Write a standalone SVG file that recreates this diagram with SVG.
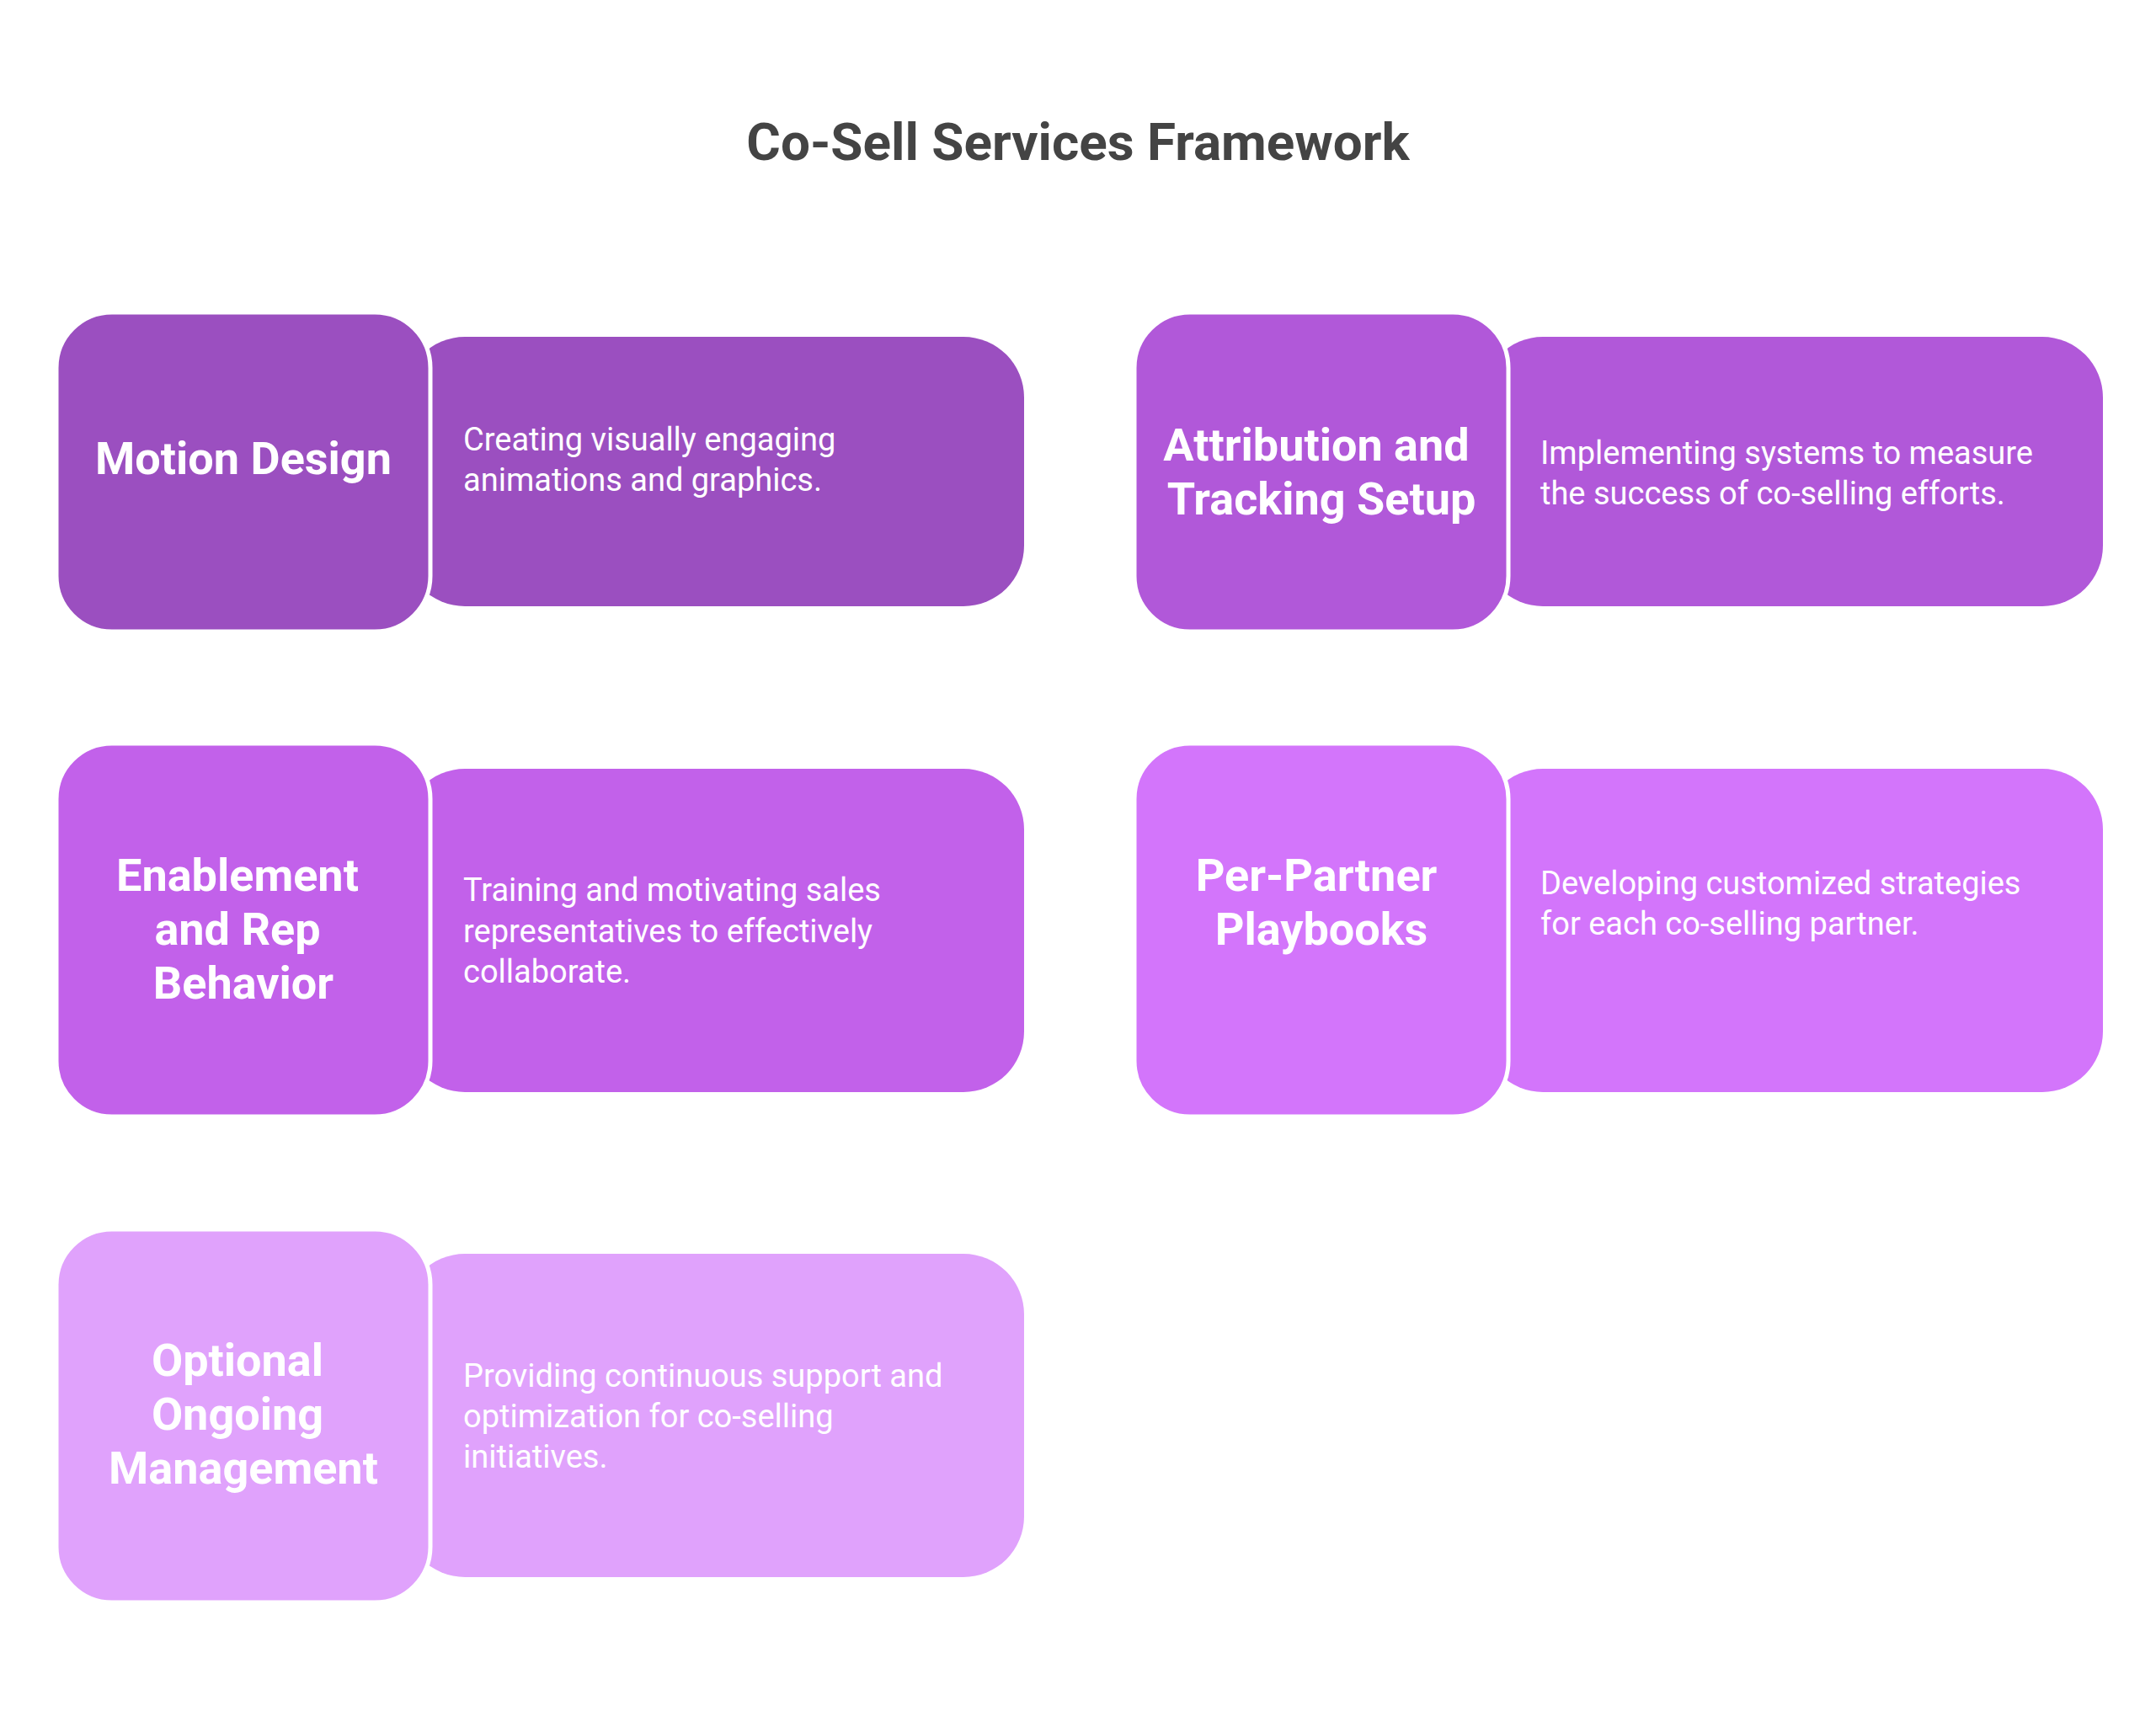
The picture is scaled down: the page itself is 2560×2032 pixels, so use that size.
<svg xmlns="http://www.w3.org/2000/svg" width="2560" height="2032" viewBox="0 0 2560 2032">
<style>
.t{font-family:Roboto,"Liberation Sans",sans-serif;font-weight:700;font-size:54px;fill:#fff;text-anchor:middle}
.d{font-family:Roboto,"Liberation Sans",sans-serif;font-size:38px;fill:#fff}
.h{stroke:#fff;stroke-width:5}
</style>
<rect width="2560" height="2032" fill="#fff"/>
<text x="1280" y="190" font-family="Roboto,'Liberation Sans',sans-serif" font-weight="700" font-size="62" fill="#444" text-anchor="middle">Co-Sell Services Framework</text>
<g id="n1">
<rect x="480" y="400" width="736" height="320" rx="72" fill="#9b4fc0"/>
<rect class="h" x="67" y="371" width="444" height="379" rx="66" fill="#9b4fc0"/>
<text class="t" x="289" y="563">Motion Design</text>
<text class="d" x="550" y="535">Creating visually engaging</text>
<text class="d" x="550" y="583">animations and graphics.</text>
</g>
<g id="n2">
<rect x="1760" y="400" width="737" height="320" rx="72" fill="#b158d9"/>
<rect class="h" x="1347" y="371" width="444" height="379" rx="66" fill="#b158d9"/>
<text class="t" x="1563" y="547">Attribution and</text>
<text class="t" x="1569" y="611">Tracking Setup</text>
<text class="d" x="1829" y="551">Implementing systems to measure</text>
<text class="d" x="1829" y="599">the success of co-selling efforts.</text>
</g>
<g id="n3">
<rect x="480" y="913" width="736" height="384" rx="72" fill="#c261ea"/>
<rect class="h" x="67" y="883" width="444" height="443" rx="66" fill="#c261ea"/>
<text class="t" x="282" y="1058">Enablement</text>
<text class="t" x="282" y="1122">and Rep</text>
<text class="t" x="289" y="1186">Behavior</text>
<text class="d" x="550" y="1070">Training and motivating sales</text>
<text class="d" x="550" y="1119">representatives to effectively</text>
<text class="d" x="550" y="1167">collaborate.</text>
</g>
<g id="n4">
<rect x="1760" y="913" width="737" height="384" rx="72" fill="#d375fb"/>
<rect class="h" x="1347" y="883" width="444" height="443" rx="66" fill="#d375fb"/>
<text class="t" x="1563" y="1058">Per-Partner</text>
<text class="t" x="1569" y="1122">Playbooks</text>
<text class="d" x="1829" y="1062">Developing customized strategies</text>
<text class="d" x="1829" y="1110">for each co-selling partner.</text>
</g>
<g id="n5">
<rect x="480" y="1489" width="736" height="384" rx="72" fill="#e0a2fc"/>
<rect class="h" x="67" y="1460" width="444" height="443" rx="66" fill="#e0a2fc"/>
<text class="t" x="282" y="1634">Optional</text>
<text class="t" x="282" y="1698">Ongoing</text>
<text class="t" x="289" y="1762">Management</text>
<text class="d" x="550" y="1647">Providing continuous support and</text>
<text class="d" x="550" y="1695">optimization for co-selling</text>
<text class="d" x="550" y="1743">initiatives.</text>
</g>
<g id="connectors"/>
</svg>
